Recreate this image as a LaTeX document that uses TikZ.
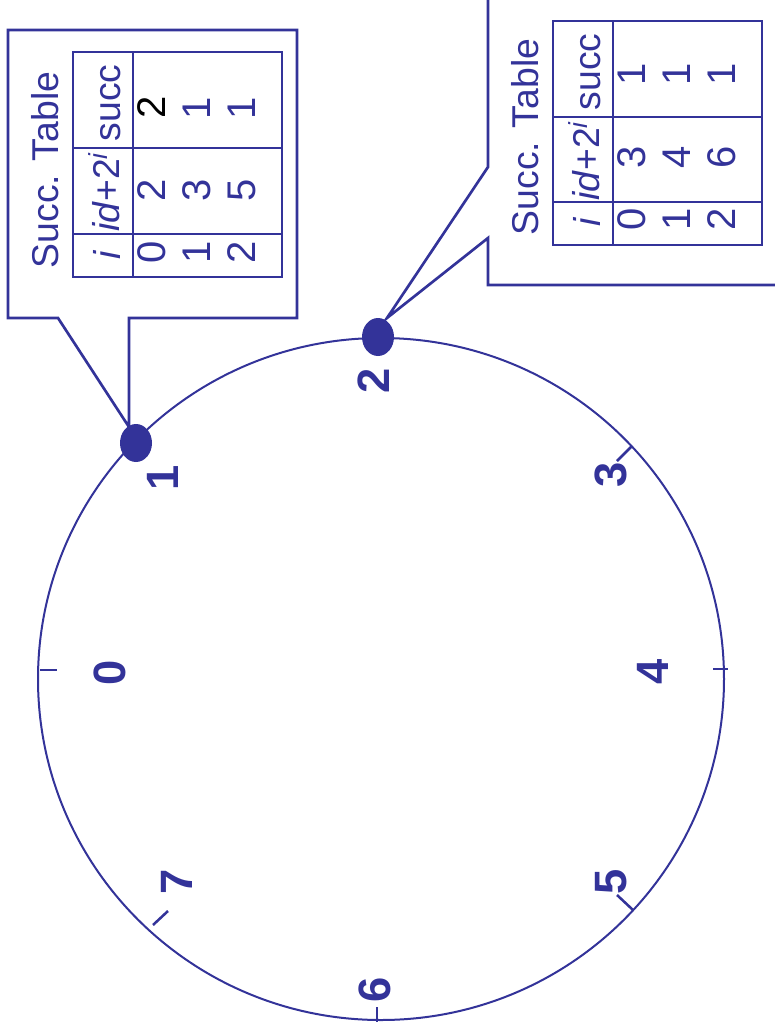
\documentclass[tikz,border=0pt]{standalone}
\usepackage{fontspec}
\setmainfont{Liberation Sans}
\usetikzlibrary{shapes.geometric}
\definecolor{ink}{RGB}{51,51,153}
\newcommand\tabfont{\fontsize{28}{30}\selectfont}
\newcommand\digfont{\fontsize{30}{32}\selectfont}
\newcommand\lblfont{\fontsize{34}{36}\selectfont\bfseries}
\begin{document}
\begin{tikzpicture}[x=0.75pt,y=-0.75pt,
  ring/.style={draw=ink,line width=1.5pt},
  boxline/.style={draw=ink,line width=2pt,line join=miter},
  gridline/.style={draw=ink,line width=1.9pt},
  tick/.style={draw=ink,line width=1.9pt},
  dot/.style={ellipse,fill=ink,draw=none,minimum width=24pt,minimum height=28.5pt,inner sep=0pt},
  ttext/.style={rotate=90,text=ink,font=\tabfont,inner sep=0pt},
  tdig/.style={rotate=90,text=ink,font=\digfont,inner sep=0pt},
  lbl/.style={rotate=90,text=ink,font=\lblfont,inner sep=0pt}]
\useasboundingbox (0,0) rectangle (775,1036);
\clip (0,0) rectangle (775,1036);
% ring
\draw[ring] (381,679) ellipse [x radius=257.25pt, y radius=255.75pt];
% ticks
\draw[tick] (40,670) -- (57,670);
\draw[tick] (713,669) -- (728,669);
\draw[tick] (377,1007) -- (377,1022);
\draw[tick] (632,446) -- (617,461);
\draw[tick] (633,910) -- (617,895);
\draw[tick] (168,911) -- (153,925);
% labels
\node[lbl] (l0) at (110,673) {0};
\node[lbl] (l1) at (163,478) {1};
\node[lbl] (l2) at (374,381) {2};
\node[lbl] (l3) at (611,475) {3};
\node[lbl] (l4) at (653,672) {4};
\node[lbl] (l5) at (611,882) {5};
\node[lbl] (l6) at (375,990) {6};
\node[lbl] (l7) at (177,882) {7};
% callout tips
\coordinate (t1) at (129,427);
\coordinate (t2) at (387,318);
% left callout
\draw[boxline] (t1) -- (58,318) -- (8,318) -- (8,30) -- (297,30) -- (297,318) -- (129,318) -- cycle;
% right callout
\draw[boxline] (488,-20) -- (488,167) -- (t2) -- (488,238) -- (488,285) -- (800,285);
% dots
\node[dot] (p1) at (136,443) {};
\node[dot] (p2) at (378,337) {};
% left table
\draw[gridline] (73,52) rectangle (282,277);
\draw[gridline] (133,52) -- (133,277);
\draw[gridline] (73,148) -- (282,148);
\draw[gridline] (73,234) -- (282,234);
\node[ttext] (ltitle) at (45,170) {Succ. Table};
\node[ttext] (lhs) at (111,103) {succ};
\node[ttext] (lhd) at (104,192) {\textit{id}+2\textsuperscript{\textit{i}}};
\node[ttext] (lhi) at (107,255) {\textit{i}};
\node[tdig] (li0) at (152,252) {0};
\node[tdig] (li1) at (197,252) {1};
\node[tdig] (li2) at (242,252) {2};
\node[tdig] (ld0) at (152,190) {2};
\node[tdig] (ld1) at (197,190) {3};
\node[tdig] (ld2) at (242,190) {5};
\node[tdig,text=black] (ls0) at (152,107) {2};
\node[tdig] (ls1) at (197,108) {1};
\node[tdig] (ls2) at (242,108) {1};
% right table
\draw[gridline] (553,21) rectangle (762,245);
\draw[gridline] (613,21) -- (613,245);
\draw[gridline] (553,117) -- (762,117);
\draw[gridline] (553,202) -- (762,202);
\node[ttext] (rtitle) at (525,137) {Succ. Table};
\node[ttext] (rhs) at (591,72) {succ};
\node[ttext] (rhd) at (584,161) {\textit{id}+2\textsuperscript{\textit{i}}};
\node[ttext] (rhi) at (587,222) {\textit{i}};
\node[tdig] (ri0) at (632,219) {0};
\node[tdig] (ri1) at (677,219) {1};
\node[tdig] (ri2) at (722,219) {2};
\node[tdig] (rd0) at (632,157) {3};
\node[tdig] (rd1) at (677,157) {4};
\node[tdig] (rd2) at (722,157) {6};
\node[tdig] (rs0) at (632,74) {1};
\node[tdig] (rs1) at (677,74) {1};
\node[tdig] (rs2) at (722,74) {1};
\end{tikzpicture}
\end{document}
